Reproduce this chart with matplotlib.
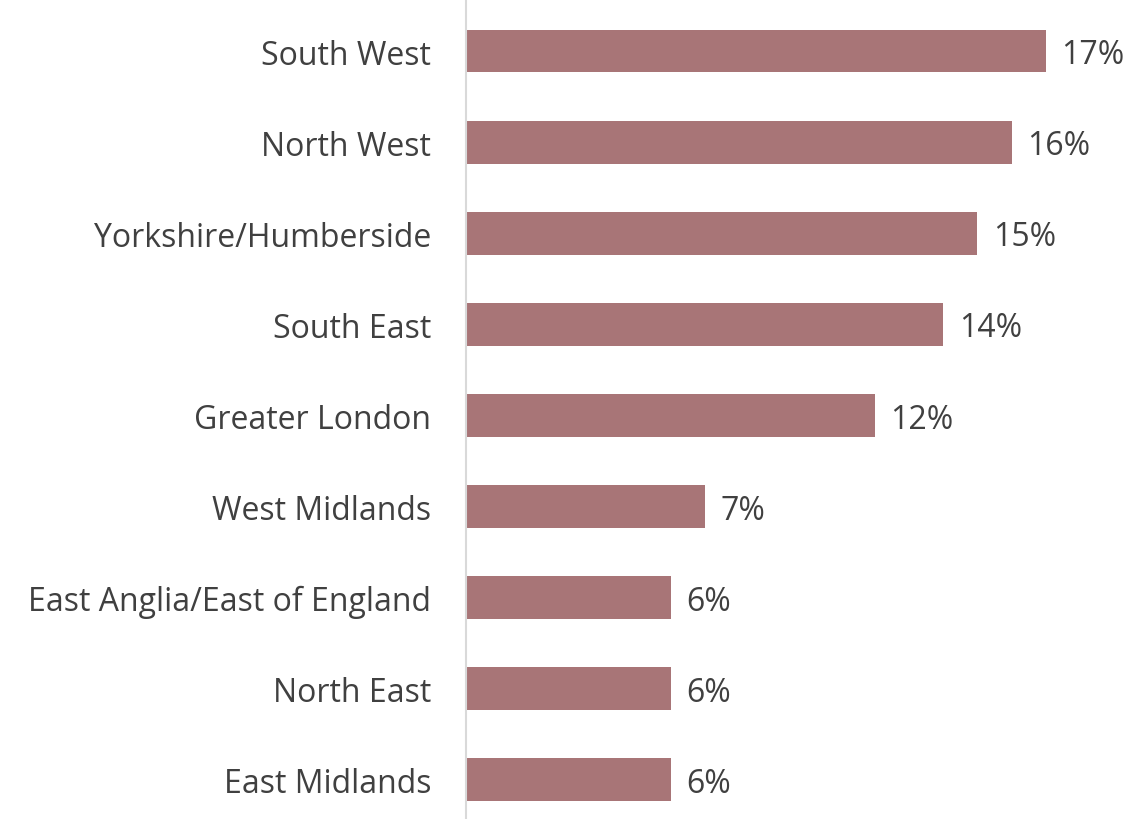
from matplotlib import pyplot as plt

regions = ['South West', 'North West', 'Yorkshire/Humberside', 'South East',
           'Greater London', 'West Midlands', 'East Anglia/East of England',
           'North East', 'East Midlands']
shares = [17, 16, 15, 14, 12, 7, 6, 6, 6]

BAR = '#A87577'
TEXT = '#404040'


def main():
    plt.rcParams['font.family'] = ['Open Sans', 'DejaVu Sans']
    fig = plt.figure(figsize=(11.37, 8.2), dpi=100)
    ax = fig.add_axes([466 / 1137, 0, 1 - 466 / 1137, 1])

    ys = list(range(len(regions)))
    ax.barh(ys, shares, height=0.47, color=BAR)

    for y, v in zip(ys, shares):
        ax.text(v + 0.45, y + 0.04, f'{v}%', va='center', ha='left',
                fontsize=23, color=TEXT)

    ax.set_yticks(ys)
    ax.set_yticklabels(regions, fontsize=23, color=TEXT)
    ax.tick_params(axis='y', length=0, pad=25)
    ax.set_xticks([])
    ax.set_xlim(0, 19.68)
    ax.set_ylim(8.43, -0.571)

    for side in ['top', 'right', 'bottom']:
        ax.spines[side].set_visible(False)
    ax.spines['left'].set_color('#D9D9D9')
    ax.spines['left'].set_linewidth(1.5)

    plt.savefig('out.png')


if __name__ == '__main__':
    main()
